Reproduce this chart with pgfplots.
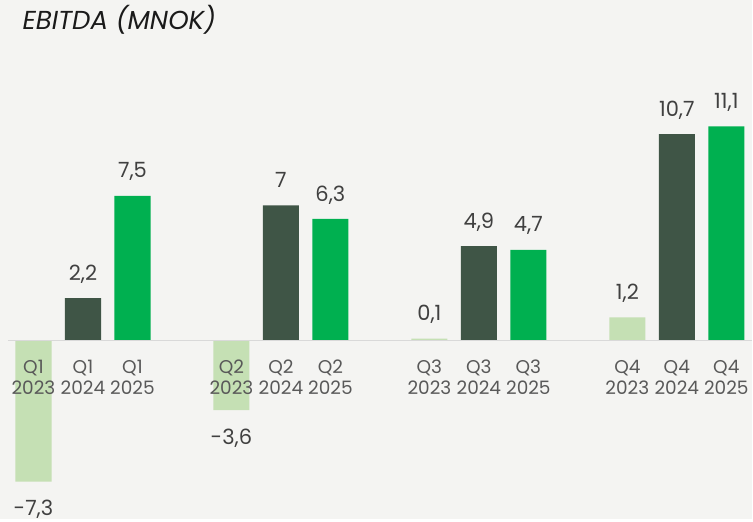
\documentclass[border=0pt]{standalone}
\usepackage{pgfplots}
\pgfplotsset{compat=1.18}
\usepackage{pgfplotstable}
\usepackage{fontspec}
\setmainfont{Poppins}
\usetikzlibrary{backgrounds}
\definecolor{bgc}{HTML}{F4F4F2}
\definecolor{c23}{HTML}{C5E0B4}
\definecolor{c24}{HTML}{3F5546}
\definecolor{c25}{HTML}{00B050}
\definecolor{lbl}{HTML}{404040}
\definecolor{cat}{HTML}{595959}
\definecolor{zl}{HTML}{D9D9D9}
\definecolor{ttl}{HTML}{1A1A1A}

\pgfplotstableread{
x y lab
0 -7.3 -7,3
4 -3.6 -3,6
8 0.1 0,1
12 1.2 1,2
}\tA
\pgfplotstableread{
x y lab
1 2.2 2,2
5 7.0 7
9 4.9 4,9
13 10.7 10,7
}\tB
\pgfplotstableread{
x y lab
2 7.5 7,5
6 6.3 6,3
10 4.7 4,7
14 11.1 11,1
}\tC

\begin{document}
\begin{tikzpicture}
\begin{axis}[
  name=ax,
  scale only axis,
  width=745pt, height=520pt,
  xmin=-0.515, xmax=14.524,
  ymin=-9.26, ymax=17.64,
  clip=false,
  axis on top,
  axis x line=middle,
  axis y line=none,
  x axis line style={-, draw=zl, line width=1.5pt},
  hide obscured x ticks=false,
  major tick length=0pt,
  xtick={0,1,2,4,5,6,8,9,10,12,13,14},
  xticklabels={{Q1\\2023},{Q1\\2024},{Q1\\2025},{Q2\\2023},{Q2\\2024},{Q2\\2025},{Q3\\2023},{Q3\\2024},{Q3\\2025},{Q4\\2023},{Q4\\2024},{Q4\\2025}},
  xticklabel style={align=center, font=\fontsize{18.5}{21}\selectfont, text=cat, anchor=north, yshift=-16pt},
  every axis plot/.append style={ybar, bar width=0.73, bar shift=0pt, draw=none},
  visualization depends on={y \as \rawy},
  nodes near coords,
  point meta=explicit symbolic,
  nodes near coords style={font=\fontsize{21}{21}\selectfont, text=lbl, anchor=base,
    yshift=\ifdim\rawy pt<0pt -34pt\else 18pt\fi},
]
\addplot[fill=c23] table[x=x,y=y,meta=lab]{\tA};
\addplot[fill=c24] table[x=x,y=y,meta=lab]{\tB};
\addplot[fill=c25] table[x=x,y=y,meta=lab]{\tC};
\end{axis}
\node[anchor=base west, xshift=11pt, yshift=-30pt, font=\fontsize{26}{26}\selectfont\itshape, text=ttl] at (ax.north west) {EBITDA (MNOK)};
\begin{scope}[on background layer]
\fill[bgc] ([xshift=-8pt]ax.south west) rectangle (ax.north east);
\end{scope}
\end{tikzpicture}
\end{document}
